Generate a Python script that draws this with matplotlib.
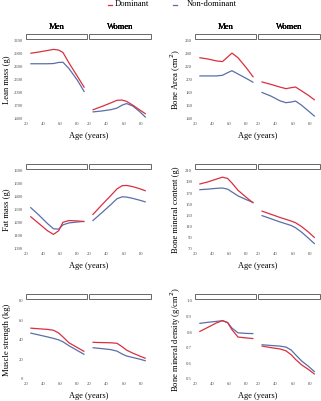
import matplotlib
matplotlib.use("Agg")
import matplotlib.pyplot as plt
from matplotlib.lines import Line2D
from matplotlib.patches import Rectangle

plt.rcParams.update({
    "font.family": ["Liberation Serif", "DejaVu Serif"],
    "font.size": 6,
})

RED = "#d9303f"
BLUE = "#5a6fa8"

# ages at which the curves were read (men / women)
AGE_M = [25, 35, 45, 52, 58, 63, 70, 80, 88]
AGE_W = [24, 35, 45, 52, 58, 63, 70, 78, 85]

# panel name, y label, y ticks, men dominant, men non-dominant, women dominant, women non-dominant
LEAN_Y = [1400, 1700, 2000, 2300, 2600, 2900, 3200]
LEAN_MD = [2910, 2940, 2975, 3000, 2985, 2930, 2690, 2375, 2120]
LEAN_MN = [2670, 2670, 2670, 2675, 2700, 2705, 2560, 2285, 2020]
LEAN_WD = [1608, 1690, 1770, 1830, 1835, 1805, 1720, 1610, 1515]
LEAN_WN = [1562, 1585, 1615, 1650, 1720, 1755, 1700, 1570, 1435]

AREA_Y = [140, 160, 180, 200, 220, 240, 260]
AREA_MD = [234, 232, 229, 228, 235, 241, 234, 218, 204]
AREA_MN = [206, 206, 206, 207, 211, 214, 209, 202, 196]
AREA_WD = [197, 193, 189, 186.5, 188, 189, 183, 176, 169]
AREA_WN = [181, 175, 168, 165, 166, 167.5, 161, 152, 144]

FAT_Y = [1000, 1100, 1200, 1300, 1400, 1500, 1600]
FAT_MD = [1250, 1195, 1140, 1112, 1140, 1205, 1218, 1215, 1210]
FAT_MN = [1320, 1260, 1195, 1155, 1152, 1185, 1200, 1207, 1212]
FAT_WD = [1261, 1340, 1410, 1460, 1485, 1487, 1478, 1462, 1445]
FAT_WN = [1215, 1280, 1340, 1385, 1400, 1398, 1388, 1374, 1360]

BMC_Y = [70, 90, 110, 130, 150, 170, 190, 210]
BMC_MD = [186, 190, 195, 198.5, 196, 188, 175, 162, 152]
BMC_MN = [176, 177, 178.5, 179, 177, 172, 165, 158, 153]
BMC_WD = [138, 132, 126.5, 123, 120, 117, 110, 100, 90]
BMC_WN = [130, 124, 118.5, 115, 112, 108, 100, 89, 79]

MUS_Y = [0, 20, 40, 60, 80]
MUS_MD = [52, 51.3, 50.7, 49.8, 47, 43, 37, 32, 28]
MUS_MN = [47, 45, 43, 41.5, 40, 38, 34, 29, 25]
MUS_WD = [37.5, 37.2, 37, 36.5, 33, 29.5, 26.5, 23.5, 21]
MUS_WN = [32, 31, 30, 28.5, 25.5, 23.5, 22, 20.3, 18.5]

BMD_Y = [0.5, 0.6, 0.7, 0.8, 0.9, 1.0]
BMD_MD = [0.802, 0.830, 0.858, 0.873, 0.860, 0.815, 0.768, 0.762, 0.758]
BMD_MN = [0.855, 0.862, 0.868, 0.872, 0.860, 0.825, 0.795, 0.791, 0.790]
BMD_WD = [0.711, 0.700, 0.692, 0.680, 0.655, 0.625, 0.590, 0.560, 0.530]
BMD_WN = [0.719, 0.714, 0.710, 0.704, 0.685, 0.655, 0.615, 0.580, 0.545]

PANELS = [
    ("Lean mass (g)", LEAN_Y, LEAN_MD, LEAN_MN, LEAN_WD, LEAN_WN, "{:.0f}"),
    ("Bone Area (cm$^2$)", AREA_Y, AREA_MD, AREA_MN, AREA_WD, AREA_WN, "{:.0f}"),
    ("Fat mass (g)", FAT_Y, FAT_MD, FAT_MN, FAT_WD, FAT_WN, "{:.0f}"),
    ("Bone mineral content (g)", BMC_Y, BMC_MD, BMC_MN, BMC_WD, BMC_WN, "{:.0f}"),
    ("Muscle strength (kg)", MUS_Y, MUS_MD, MUS_MN, MUS_WD, MUS_WN, "{:.0f}"),
    ("Bone mineral density (g/cm$^2$)", BMD_Y, BMD_MD, BMD_MN, BMD_WD, BMD_WN, "{:.1f}"),
]
XTICKS = [20, 40, 60, 80]

W, H = 321, 401
fig = plt.figure(figsize=(W / 100, H / 100), dpi=100)


def px_axes(x0, x1, y0, y1):
    return fig.add_axes([x0 / W, 1 - y1 / H, (x1 - x0) / W, (y1 - y0) / H])


def facet(x0, x1, top, bottom, ages, dom, nondom, yt, fmt, label, show_y):
    ax = px_axes(x0, x1, top, bottom)
    ax.plot(ages, nondom, color=BLUE, lw=0.9, solid_capstyle="butt")
    ax.plot(ages, dom, color=RED, lw=0.9, solid_capstyle="butt")
    ax.set_xlim(20, 91)
    ax.set_ylim(yt[0], yt[-1])
    ax.set_xticks(XTICKS)
    ax.set_yticks(yt)
    ax.set_xticklabels([str(t) for t in XTICKS])
    if show_y:
        ax.set_yticklabels([fmt.format(t) for t in yt])
    else:
        ax.set_yticklabels([])
    ax.tick_params(length=0, labelsize=3.4, colors="#555555", pad=2)
    for s in ax.spines.values():
        s.set_visible(False)
    ax.patch.set_alpha(0)
    # strip box and label
    fig.patches.append(Rectangle((x0 / W, 1 - (top - 2) / H), (x1 - x0) / W, 5 / H,
                                 transform=fig.transFigure, fc="white",
                                 ec="#666666", lw=0.7))
    fig.text((x0 + x1) / 2 / W, 1 - 27 / H, label, ha="center", va="center",
             fontsize=6.2)
    return ax


COLS = [((26, 87), (89, 151), 7), ((195, 256), (258, 320), 176)]
for i, (ylab, yt, md, mn, wd, wn, fmt) in enumerate(PANELS):
    r, c = divmod(i, 2)
    (mx0, mx1), (wx0, wx1), ylx = COLS[c]
    top, bottom = 40.7 + 130 * r, 119 + 130 * r
    facet(mx0, mx1, top, bottom, AGE_M, md, mn, yt, fmt, "Men", True)
    facet(wx0, wx1, top, bottom, AGE_W, wd, wn, yt, fmt, "Women", False)
    fig.text(ylx / W, 1 - (top + bottom) / 2 / H, ylab, rotation=90,
             ha="center", va="center", fontsize=6.2)
    fig.text((mx0 + wx1) / 2 / W, 1 - (136 + 130 * r) / H, "Age (years)",
             ha="center", va="center", fontsize=6.0)

# legend
for xs, col, lab, tx in [((108, 112), RED, "Dominant", 115),
                         ((173, 177), BLUE, "Non-dominant", 186.5)]:
    fig.lines.append(Line2D([xs[0] / W, xs[1] / W], [1 - 4.5 / H] * 2,
                            transform=fig.transFigure, color=col, lw=0.9))
    fig.text(tx / W, 1 - 4.5 / H, lab, ha="left", va="center", fontsize=6.1)

fig.savefig("out.png", dpi=100)
